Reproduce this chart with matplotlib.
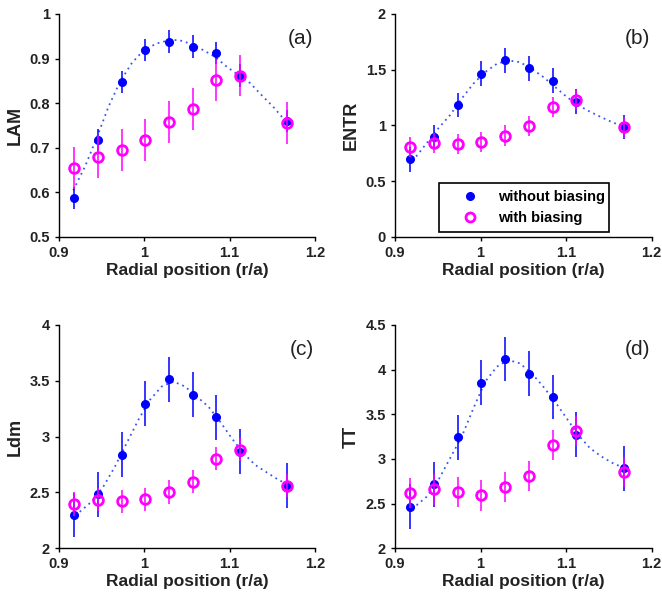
import matplotlib
matplotlib.use('Agg')
import matplotlib.pyplot as plt
from matplotlib.lines import Line2D

plt.rcParams['font.family'] = ['Liberation Sans', 'DejaVu Sans']

# radial positions (r/a)
r = [0.9175, 0.9455, 0.9735, 1.001, 1.029, 1.0565, 1.0845, 1.112, 1.1675]

# (a) LAM
lam_wo = [0.588, 0.718, 0.847, 0.920, 0.938, 0.927, 0.913, 0.862, 0.760]
lam_w = [0.654, 0.680, 0.694, 0.717, 0.757, 0.787, 0.852, 0.862, 0.756]
lam_wo_err = [0.025] * 9
lam_w_err = [0.047] * 9
fit_a_r = [0.9168, 0.9305, 0.944, 0.958, 0.9715, 0.985, 0.9988, 1.0145, 1.027,
           1.0398, 1.055, 1.069, 1.0828, 1.0965, 1.110, 1.124, 1.1375, 1.151, 1.166]
fit_a = [0.605, 0.658, 0.721, 0.792, 0.848, 0.889, 0.918, 0.934, 0.940,
         0.942, 0.933, 0.919, 0.904, 0.882, 0.863, 0.845, 0.818, 0.792, 0.759]

# (b) ENTR
entr_wo = [0.696, 0.896, 1.182, 1.466, 1.585, 1.513, 1.403, 1.215, 0.985]
entr_w = [0.806, 0.842, 0.833, 0.848, 0.910, 0.994, 1.167, 1.230, 0.982]
entr_wo_err = [0.11] * 9
entr_w_err = [0.09] * 9
fit_b_r = [0.9185, 0.9253, 0.937, 0.9507, 0.9643, 0.978, 0.9916, 1.0053, 1.019, 1.0325,
           1.046, 1.0597, 1.0733, 1.087, 1.1006, 1.1142, 1.128, 1.1415, 1.155, 1.1688]
fit_b = [0.70, 0.728, 0.841, 0.975, 1.093, 1.242, 1.375, 1.479, 1.553, 1.583,
         1.568, 1.509, 1.435, 1.346, 1.257, 1.182, 1.123, 1.073, 1.025, 0.990]

# (c) Ldm
ldm_wo = [2.299, 2.484, 2.839, 3.296, 3.513, 3.376, 3.173, 2.866, 2.564]
ldm_w = [2.397, 2.436, 2.421, 2.439, 2.504, 2.597, 2.803, 2.884, 2.561]
ldm_wo_err = [0.2] * 9
ldm_w_err = [0.105] * 9
fit_c_r = [0.9185, 0.9246, 0.9383, 0.952, 0.9656, 0.9793, 0.993, 1.0067, 1.0203, 1.034,
           1.0477, 1.0613, 1.075, 1.0887, 1.1023, 1.116, 1.1297, 1.1434, 1.157, 1.1687]
fit_c = [2.30, 2.329, 2.418, 2.553, 2.732, 2.941, 3.15, 3.33, 3.449, 3.494,
         3.449, 3.36, 3.27, 3.136, 2.987, 2.853, 2.748, 2.68, 2.614, 2.569]

# (d) TT
tt_wo = [2.466, 2.716, 3.243, 3.854, 4.119, 3.955, 3.694, 3.272, 2.896]
tt_w = [2.616, 2.660, 2.631, 2.593, 2.687, 2.810, 3.153, 3.313, 2.851]
tt_wo_err = [0.25] * 9
tt_w_err = [0.17] * 9
fit_d_r = fit_b_r
fit_d = [2.47, 2.484, 2.577, 2.764, 3.007, 3.25, 3.567, 3.865, 4.033, 4.108,
         4.07, 3.96, 3.81, 3.642, 3.455, 3.269, 3.12, 3.026, 2.951, 2.895]

BLUE = '#0000ff'
MAG = '#ff00ff'
FIT = '#3a55f5'

fig = plt.figure(figsize=(6.62, 5.95), dpi=100)
pos = {
    'a': [0.0891, 0.6017, 0.3867, 0.3748],
    'b': [0.5967, 0.6017, 0.3877, 0.3748],
    'c': [0.0891, 0.0785, 0.3867, 0.3753],
    'd': [0.5967, 0.0785, 0.3877, 0.3753],
}
panels = [
    ('a', 'LAM', lam_wo, lam_wo_err, lam_w, lam_w_err, fit_a_r, fit_a,
     (0.5, 1.0), [0.5, 0.6, 0.7, 0.8, 0.9, 1.0]),
    ('b', 'ENTR', entr_wo, entr_wo_err, entr_w, entr_w_err, fit_b_r, fit_b,
     (0.0, 2.0), [0, 0.5, 1, 1.5, 2]),
    ('c', 'Ldm', ldm_wo, ldm_wo_err, ldm_w, ldm_w_err, fit_c_r, fit_c,
     (2.0, 4.0), [2, 2.5, 3, 3.5, 4]),
    ('d', 'TT', tt_wo, tt_wo_err, tt_w, tt_w_err, fit_d_r, fit_d,
     (2.0, 4.5), [2, 2.5, 3, 3.5, 4, 4.5]),
]

for key, ylab, wo, wo_err, w, w_err, fr, fy, ylim, yt in panels:
    ax = fig.add_axes(pos[key])
    ax.errorbar(r, wo, yerr=wo_err, fmt='o', color=BLUE, ms=5.5, ecolor=BLUE,
                elinewidth=1.1, capsize=0, zorder=3)
    ax.errorbar(r, w, yerr=w_err, fmt='o', color=MAG, ms=7, mfc='none',
                mec=MAG, mew=2, ecolor=MAG, elinewidth=1.1, capsize=0, zorder=4)
    ax.plot(fr, fy, color=FIT, lw=1.3, ls=(0, (1, 2.2)), zorder=2)

    ax.set_xlim(0.9, 1.2)
    ax.set_ylim(*ylim)
    ax.set_xticks([0.9, 1.0, 1.1, 1.2])
    ax.set_xticklabels(['0.9', '1', '1.1', '1.2'])
    ax.set_yticks(yt)
    ax.set_yticklabels(['%g' % v for v in yt])
    for s in ['top', 'right']:
        ax.spines[s].set_visible(False)
    for s in ['left', 'bottom']:
        ax.spines[s].set_linewidth(1.0)
    ax.tick_params(direction='out', length=3, width=1, labelsize=10.5)
    for lbl in ax.get_xticklabels() + ax.get_yticklabels():
        lbl.set_fontweight('bold')
        lbl.set_color('#222222')
    ax.set_xlabel('Radial position (r/a)', fontsize=12.5, fontweight='bold',
                  color='#222222', labelpad=2)
    ax.set_ylabel(ylab, fontsize=13, fontweight='bold', color='#222222', labelpad=4)
    ax.text(0.995, 0.89, '(%s)' % key, transform=ax.transAxes, ha='right',
            va='center', fontsize=15, color='#222222')

    if key == 'b':
        h = [Line2D([], [], ls='none', marker='o', color=BLUE, ms=5.5),
             Line2D([], [], ls='none', marker='o', mfc='none', mec=MAG, mew=2, ms=6.5)]
        leg = ax.legend(h, ['without biasing', 'with biasing'], loc='lower left',
                        bbox_to_anchor=(0.171, 0.024, 0.663, 0.206), mode='expand',
                        borderaxespad=0, fancybox=False, framealpha=1,
                        edgecolor='black', prop={'weight': 'bold', 'size': 10.5},
                        handlelength=3.3, handletextpad=0.3, borderpad=0.45,
                        labelspacing=0.5)
        leg.get_frame().set_linewidth(1.2)

fig.savefig('out.png', dpi=100)
